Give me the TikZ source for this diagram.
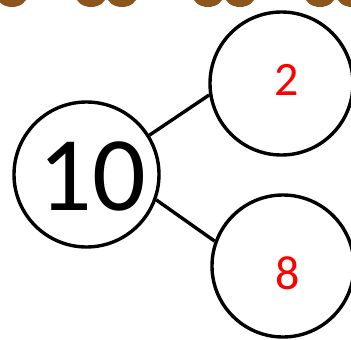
\documentclass[tikz,border=0pt]{standalone}
\usepackage{fontspec}
\setmainfont{Carlito}
\definecolor{blobbrown}{RGB}{140,85,30}
\tikzset{
  bond/.style={draw=black,circle,line width=3.4pt,inner sep=0pt,fill=white},
  link/.style={draw=black,line width=3.4pt},
  blob/.style={fill=blobbrown},
  part/.style={text=red,font=\fontsize{48}{48}\selectfont,inner sep=0pt},
  whole/.style={font=\fontsize{106}{106}\selectfont,inner sep=0pt}
}
\begin{document}
\begin{tikzpicture}[x=1pt,y=-1pt]
\useasboundingbox (0,0) rectangle (351,340);
\clip (0,0) rectangle (351,340);
% brown blobs at the top edge
\foreach \bx in {12,91,122,208,240,320,352}{
  \fill[blob] (\bx,-5) ellipse (15.5 and 12);
}
\node[bond,minimum size=145pt] (whole) at (86.5,174.5) {};
\node[whole] (wt) at (92,176.5) {10};
\node[bond,minimum size=143pt] (top) at (281.5,83.5) {};
\node[bond,minimum size=142pt] (bot) at (283,266) {};
\node[part] (tt) at (287,80) {2};
\node[part] (bt) at (287.5,273) {8};
\draw[link] (whole.32) -- (top.189);
\draw[link] (whole.-20) -- (bot.160);
\end{tikzpicture}
\end{document}
